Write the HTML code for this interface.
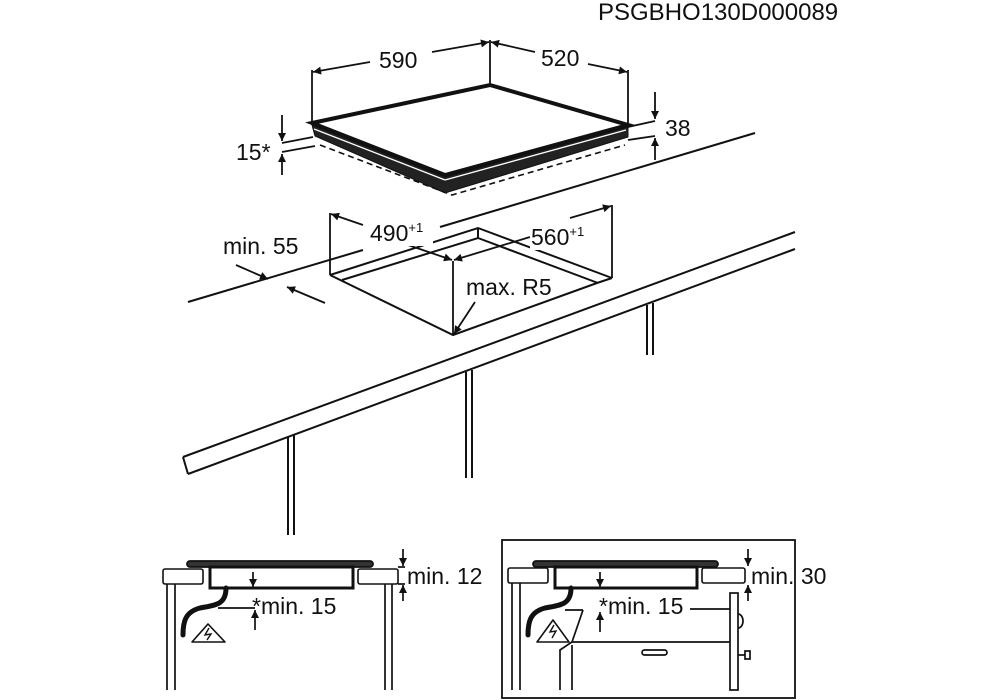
<!DOCTYPE html>
<html><head><meta charset="utf-8"><style>
html,body{margin:0;padding:0;background:#fff}
svg{display:block}
text{font-family:"Liberation Sans",sans-serif;fill:#111}
</style></head><body>
<svg width="998" height="700" viewBox="0 0 998 700" xmlns="http://www.w3.org/2000/svg">
<defs>
<marker id="a" viewBox="0 0 10 10" refX="10" refY="5" markerWidth="12" markerHeight="8" orient="auto-start-reverse" markerUnits="userSpaceOnUse"><path d="M0,0 L10,5 L0,10 z" fill="#111"/></marker>
</defs>
<text x="598" y="20" font-size="24">PSGBHO130D000089</text>
<g stroke="#111" fill="none" stroke-width="1.8">
<line x1="312" y1="70" x2="312" y2="123"/>
<line x1="490" y1="40" x2="490" y2="85"/>
<line x1="628" y1="70" x2="628" y2="125"/>
<line x1="370" y1="62" x2="313" y2="72" marker-end="url(#a)"/>
<line x1="432" y1="52" x2="489" y2="42" marker-end="url(#a)"/>
<line x1="535" y1="52" x2="491" y2="42" marker-end="url(#a)"/>
<line x1="588" y1="64" x2="627" y2="72" marker-end="url(#a)"/>
</g>
<text x="379" y="68" font-size="23">590</text>
<text x="541" y="66" font-size="23">520</text>
<polygon points="312,123 490,85 628,125 445,175" fill="#fff" stroke="#111" stroke-width="4"/>
<polygon points="312,125 445,177 628,127 628,137 445,193 315,136" fill="#222" stroke="#111" stroke-width="1"/>
<line x1="314" y1="129" x2="445" y2="180" stroke="#fff" stroke-width="1.3"/>
<line x1="445" y1="180" x2="626" y2="130" stroke="#fff" stroke-width="1.3"/>
<polyline points="320,145 452,195 625,145" fill="none" stroke="#111" stroke-width="1.6" stroke-dasharray="6,4"/>
<g stroke="#111" fill="none" stroke-width="1.8">
<line x1="628" y1="127" x2="655" y2="121"/>
<line x1="628" y1="140" x2="655" y2="136"/>
<line x1="655" y1="92" x2="655" y2="119" marker-end="url(#a)"/>
<line x1="655" y1="160" x2="655" y2="138" marker-end="url(#a)"/>
<line x1="282" y1="143" x2="313" y2="137"/>
<line x1="282" y1="152" x2="315" y2="146"/>
<line x1="282" y1="115" x2="282" y2="141" marker-end="url(#a)"/>
<line x1="282" y1="175" x2="282" y2="154" marker-end="url(#a)"/>
</g>
<text x="665" y="136" font-size="23">38</text>
<text x="236" y="160" font-size="23">15*</text>
<g stroke="#111" fill="none" stroke-width="2">
<line x1="188" y1="302" x2="363" y2="250"/>
<line x1="440" y1="227" x2="755" y2="133"/>
<line x1="183" y1="457" x2="795" y2="232"/>
<line x1="188" y1="474" x2="795" y2="249"/>
<line x1="183" y1="457" x2="188" y2="474"/>
<polyline points="330,275 478,228 612,278"/>
<polyline points="342,280 478,238 598,283"/>
<line x1="478" y1="228" x2="478" y2="238"/>
<polyline points="330,275 453,335 597,283 612,278"/>
<line x1="288" y1="437" x2="288" y2="535"/><line x1="294" y1="435" x2="294" y2="535"/>
<line x1="466" y1="372" x2="466" y2="478"/><line x1="472" y1="370" x2="472" y2="478"/>
<line x1="647" y1="305" x2="647" y2="355"/><line x1="653" y1="303" x2="653" y2="355"/>
</g>
<g stroke="#111" fill="none" stroke-width="1.8">
<line x1="330" y1="213" x2="330" y2="275"/>
<line x1="612" y1="205" x2="612" y2="278"/>
<line x1="453" y1="261" x2="453" y2="335"/>
<line x1="363" y1="225" x2="331" y2="214" marker-end="url(#a)"/>
<line x1="408" y1="245" x2="452" y2="260" marker-end="url(#a)"/>
<line x1="530" y1="237" x2="454" y2="260" marker-end="url(#a)"/>
<line x1="570" y1="218" x2="611" y2="206" marker-end="url(#a)"/>
<line x1="475" y1="302" x2="454" y2="334" marker-end="url(#a)"/>
<line x1="236" y1="265" x2="268" y2="279" marker-end="url(#a)"/>
<line x1="325" y1="303" x2="287" y2="287" marker-end="url(#a)"/>
</g>
<rect x="365" y="220" width="68" height="26" fill="#fff"/>
<text x="370" y="241" font-size="23">490<tspan font-size="13" dy="-9">+1</tspan></text>
<rect x="530" y="224" width="70" height="26" fill="#fff"/>
<text x="531" y="245" font-size="23">560<tspan font-size="13" dy="-9">+1</tspan></text>
<text x="466" y="295" font-size="23">max. R5</text>
<text x="223" y="254" font-size="23">min. 55</text>
<g stroke="#111" fill="none">
<rect x="187" y="561" width="186" height="6" rx="3" fill="#333" stroke-width="1.8"/>
<rect x="163" y="569" width="40" height="15" rx="2" stroke-width="1.6"/>
<rect x="358" y="569" width="40" height="15" rx="2" stroke-width="1.6"/>
<rect x="210" y="567" width="143" height="21" stroke-width="3"/>
<g stroke-width="1.7">
<line x1="167" y1="584" x2="167" y2="690"/><line x1="175" y1="584" x2="175" y2="690"/>
<line x1="385" y1="584" x2="385" y2="690"/><line x1="392" y1="584" x2="392" y2="690"/>
<line x1="218" y1="608" x2="255" y2="608"/>
<line x1="253" y1="572" x2="253" y2="587" marker-end="url(#a)"/>
<line x1="255" y1="630" x2="255" y2="610" marker-end="url(#a)"/>
<line x1="403" y1="549" x2="403" y2="566" marker-end="url(#a)"/>
<line x1="403" y1="601" x2="403" y2="585" marker-end="url(#a)"/>
<line x1="398" y1="567" x2="405" y2="567"/><line x1="398" y1="584" x2="405" y2="584"/>
</g>
<path d="M226,588 C226,605 215,605 200,608 C185,612 183,622 183,635" stroke-width="5" stroke-linecap="round"/>
<polygon points="208,624 192,642 225,642" stroke-width="1.6" stroke-linejoin="round"/>
<path d="M209,628 L205,635 L211,634 L207,640" stroke-width="1.4"/>
</g>
<text x="252" y="614" font-size="23">*min. 15</text>
<text x="407" y="584" font-size="23">min. 12</text>
<g stroke="#111" fill="none">
<rect x="502" y="540" width="293" height="158" stroke-width="1.8"/>
<rect x="533" y="561" width="185" height="6" rx="3" fill="#333" stroke-width="1.8"/>
<rect x="508" y="568" width="40" height="15" rx="2" stroke-width="1.6"/>
<rect x="702" y="568" width="43" height="15" rx="2" stroke-width="1.6"/>
<rect x="555" y="567" width="142" height="21" stroke-width="3"/>
<g stroke-width="1.7">
<line x1="512" y1="583" x2="512" y2="690"/><line x1="520" y1="583" x2="520" y2="690"/>
<rect x="730" y="593" width="8" height="97"/>
<path d="M738,614 A5,7 0 0 1 738,628"/>
<rect x="745" y="651" width="5" height="8"/><line x1="738" y1="655" x2="745" y2="655"/>
<line x1="572" y1="642" x2="730" y2="642"/>
<line x1="565" y1="610" x2="583" y2="610"/>
<polyline points="583,610 572,642 560,650 560,690"/>
<line x1="572" y1="645" x2="572" y2="690"/>
<rect x="642" y="650" width="25" height="5" rx="2.5"/>
<line x1="690" y1="609" x2="730" y2="609"/>
<line x1="600" y1="572" x2="600" y2="587" marker-end="url(#a)"/>
<line x1="600" y1="632" x2="600" y2="612" marker-end="url(#a)"/>
<line x1="748" y1="549" x2="748" y2="566" marker-end="url(#a)"/>
<line x1="748" y1="601" x2="748" y2="585" marker-end="url(#a)"/>
</g>
<path d="M571,588 C571,605 560,605 545,608 C530,612 528,622 528,635" stroke-width="5" stroke-linecap="round"/>
<polygon points="553,620 537,642 569,642" stroke-width="1.6" stroke-linejoin="round"/>
<path d="M554,625 L550,632 L556,631 L552,638" stroke-width="1.4"/>
</g>
<text x="599" y="614" font-size="23">*min. 15</text>
<text x="751" y="584" font-size="23">min. 30</text>
</svg>
</body></html>
